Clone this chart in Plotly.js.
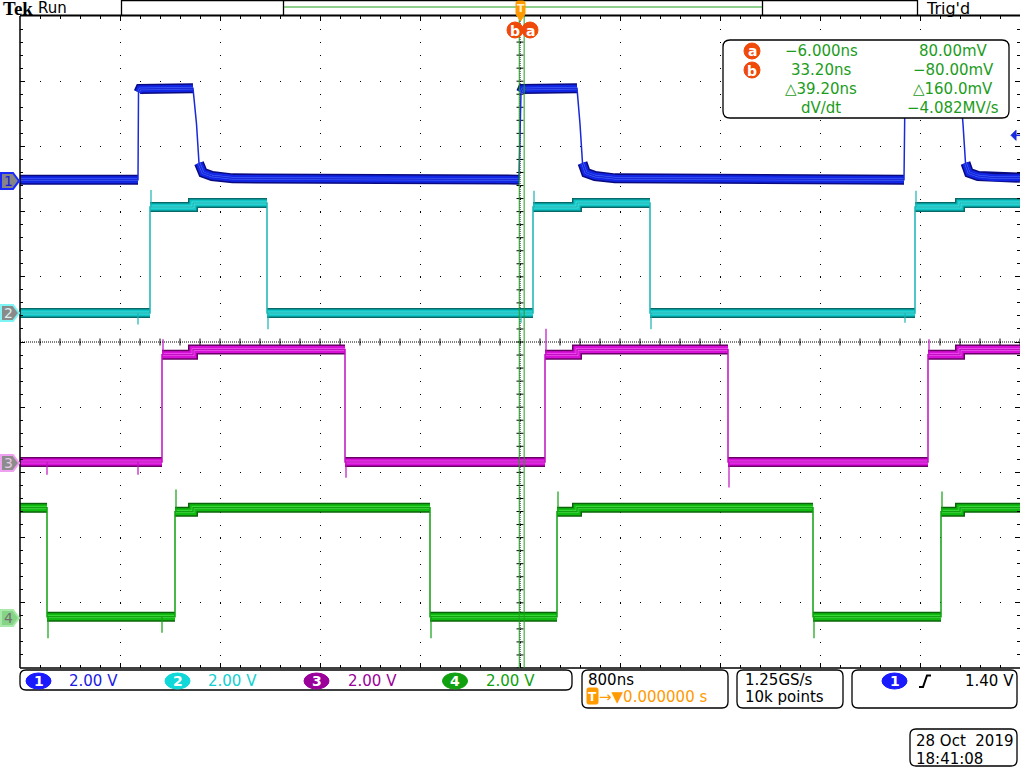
<!DOCTYPE html>
<html><head><meta charset="utf-8">
<script src="https://cdn.plot.ly/plotly-3.0.1.min.js"></script>
<style>html,body{margin:0;padding:0;background:#fff;}#plot{width:1024px;height:768px;}</style>
</head><body><div id="plot"></div>
<script>
// ---------------- DATA (time in ns, voltage in V) ----------------
const ch1T = [-4000, -3056, -3052, -3040, -2616, -2588, -2568, -2536, -2464, -2300, -8, 8, 20, 456, 480, 500, 528, 600, 760, 3072, 3080, 3092, 3520, 3544, 3564, 3592, 3664, 3800, 4000];
const ch1V = [0.04, 0.04, 2.72, 2.82, 2.84, 1.75, 0.55, 0.25, 0.15, 0.08, 0.04, 2.72, 2.82, 2.84, 1.75, 0.55, 0.25, 0.15, 0.08, 0.04, 2.72, 2.82, 2.84, 1.75, 0.55, 0.25, 0.15, 0.10, 0.10];
const ch1SpikeT = [];
const ch1SpikeV = [];

const ch2T = [-4000, -2960, -2960, -2616, -2616, -2024, -2024, 104, 104, 456, 456, 1040, 1040, 3160, 3160, 3520, 3520, 4000];
const ch2V = [0.00, 0.00, 3.25, 3.25, 3.37, 3.37, 0.00, 0.00, 3.25, 3.25, 3.37, 3.37, 0.00, 0.00, 3.25, 3.25, 3.37, 3.37];
const ch2SpikeT = [-3056, -2952, -2016, 8, 112, 1048, 3080, 3168];
const ch2SpikeV = [-0.35, 3.77, -0.50, -0.30, 3.75, -0.50, -0.30, 3.75];

const ch3T = [-4000, -2864, -2864, -2616, -2616, -1400, -1400, 200, 200, 456, 456, 1664, 1664, 3264, 3264, 3520, 3520, 4000];
const ch3V = [0.03, 0.03, 3.32, 3.32, 3.48, 3.48, 0.03, 0.03, 3.32, 3.32, 3.48, 3.48, 0.03, 0.03, 3.32, 3.32, 3.48, 3.48];
const ch3SpikeT = [-3784, -3056, -2856, -1392, 208, 1672, 3272];
const ch3SpikeV = [-0.36, -0.36, 3.80, -0.45, 4.12, -0.75, 3.80];

const ch4T = [-4000, -3784, -3784, -2760, -2760, -2616, -2616, -720, -720, 296, 296, 456, 456, 2344, 2344, 3368, 3368, 3520, 3520, 4000];
const ch4V = [3.38, 3.38, 0.04, 0.04, 3.26, 3.26, 3.38, 3.38, 0.04, 0.04, 3.26, 3.26, 3.38, 3.38, 0.04, 0.04, 3.26, 3.26, 3.38, 3.38];
const ch4SpikeT = [-3776, -2864, -2752, -712, 304, 2352, 3376];
const ch4SpikeV = [-0.62, -0.45, 3.94, -0.62, 3.88, -0.62, 3.88];

const chVoltsPerDiv = [2.00, 2.00, 2.00, 2.00];
const chOffsetDiv = [2.47, 0.445, -1.856, -4.233];
const chScaleLabels = ['2.00 V', '2.00 V', '2.00 V', '2.00 V'];
const timePerDivNs = 800;
const cursorT = [-6.0, 33.2];          // ns  (a, b)
const cursorV = [80.0, -80.0];         // mV
const readCol1 = ['\u22126.000ns', '33.20ns', '\u25B339.20ns', 'dV/dt'];
const readCol2 = ['80.00mV', '\u221280.00mV', '\u25B3160.0mV', '\u22124.082MV/s'];
const trigLevelV = 1.40;

// ---------------- GEOMETRY HELPERS ----------------
const X0 = 20, Y0 = 16, W = 1000, H = 652;
const PX = x => (x - X0) / W;
const PY = y => (Y0 + H - y) / H;
const divPx = H / 10;
const yPixOfDiv = d => (Y0 + H / 2) - d * divPx;
const FONT = 'DejaVu Sans';

const chans = [
  {T: ch1T, V: ch1V, sT: ch1SpikeT, sV: ch1SpikeV, dark: '#0a0a80', mid: '#1226e6', light: '#4d6dff', edge: '#1a2ad8'},
  {T: ch2T, V: ch2V, sT: ch2SpikeT, sV: ch2SpikeV, dark: '#066a6a', mid: '#10c4c4', light: '#6af8f8', edge: '#18b4b4'},
  {T: ch3T, V: ch3V, sT: ch3SpikeT, sV: ch3SpikeV, dark: '#680068', mid: '#d810d8', light: '#ff70ff', edge: '#c010c0'},
  {T: ch4T, V: ch4V, sT: ch4SpikeT, sV: ch4SpikeV, dark: '#0a640a', mid: '#10bc10', light: '#5cf05c', edge: '#10a010'}
];

function levelAt(T, V, t) {
  for (let i = 0; i < T.length - 1; i++) {
    if (T[i] < T[i + 1] && t >= T[i] && t <= T[i + 1]) {
      return V[i] + (V[i + 1] - V[i]) * (t - T[i]) / (T[i + 1] - T[i]);
    }
  }
  return V[V.length - 1];
}

const traces = [];
chans.forEach((c, k) => {
  const toDiv = v => v / chVoltsPerDiv[k] + chOffsetDiv[k];
  const bx = [], by = [];
  for (let i = 0; i < c.T.length; i++) {
    if (i > 0 && Math.abs(c.V[i] - c.V[i - 1]) > 1) { bx.push(null); by.push(null); }
    bx.push(c.T[i]); by.push(toDiv(c.V[i]));
  }
  [[10, c.dark], [7, c.mid], [2.5, c.light]].forEach(([w, col]) => {
    traces.push({x: bx, y: by, type: 'scatter', mode: 'lines', hoverinfo: 'skip',
      line: {color: col, width: w}});
  });
  traces.push({x: c.T, y: c.V.map(toDiv), type: 'scatter', mode: 'lines', hoverinfo: 'skip',
    line: {color: c.edge, width: 1.5}});
  const sx = [], sy = [];
  c.sT.forEach((t, i) => {
    sx.push(t, t, null);
    sy.push(toDiv(levelAt(c.T, c.V, t)), toDiv(c.sV[i]), null);
  });
  if (sx.length) traces.push({x: sx, y: sy, type: 'scatter', mode: 'lines', hoverinfo: 'skip',
    line: {color: c.edge, width: 1.2}});
});

// center crosshair tick marks
const tkx = [], tky = [], tk2x = [], tk2y = [];
for (let i = -25; i <= 25; i++) { tkx.push(i * timePerDivNs / 5); tky.push(0); }
for (let i = -25; i <= 25; i++) { tk2x.push(0); tk2y.push(i / 5); }
traces.unshift({x: tkx, y: tky, type: 'scatter', mode: 'markers', hoverinfo: 'skip',
  marker: {symbol: 'line-ns', size: 5, line: {color: '#000', width: 1}}});
traces.unshift({x: tk2x, y: tk2y, type: 'scatter', mode: 'markers', hoverinfo: 'skip',
  marker: {symbol: 'line-ew', size: 5, line: {color: '#000', width: 1}}});

// ---------------- SHAPES ----------------
const shapes = [];
const P = (x, y) => PX(x) + ',' + PY(y);
function rrect(x0, y0, x1, y1, r, line, fill) {
  const d = 'M' + P(x0 + r, y0) + ' L' + P(x1 - r, y0) + ' Q' + P(x1, y0) + ' ' + P(x1, y0 + r) +
    ' L' + P(x1, y1 - r) + ' Q' + P(x1, y1) + ' ' + P(x1 - r, y1) + ' L' + P(x0 + r, y1) +
    ' Q' + P(x0, y1) + ' ' + P(x0, y1 - r) + ' L' + P(x0, y0 + r) + ' Q' + P(x0, y0) + ' ' + P(x0 + r, y0) + ' Z';
  shapes.push({type: 'path', xref: 'paper', yref: 'paper', path: d, line: line || {color: '#000', width: 1.3}, fillcolor: fill || '#fff'});
}
function pline(pts, color, width, fill, layer) {
  const d = pts.map((p, i) => (i ? 'L' : 'M') + P(p[0], p[1])).join(' ') + (fill ? ' Z' : '');
  shapes.push({type: 'path', xref: 'paper', yref: 'paper', path: d, layer: layer || 'above',
    line: {color: color, width: width}, fillcolor: fill || 'rgba(0,0,0,0)'});
}
function ell(cx, cy, rx, ry, fill, lineColor) {
  shapes.push({type: 'circle', xref: 'paper', yref: 'paper', x0: PX(cx - rx), x1: PX(cx + rx), y0: PY(cy + ry), y1: PY(cy - ry),
    fillcolor: fill, line: {color: lineColor || fill, width: 1}});
}

// center dense dotted crosshair
shapes.push({type: 'line', xref: 'paper', yref: 'paper', x0: 0, x1: 1, y0: 0.5, y1: 0.5, layer: 'below', line: {color: '#000', width: 1, dash: '1px,1px'}});
shapes.push({type: 'line', xref: 'paper', yref: 'paper', x0: 0.5, x1: 0.5, y0: 0, y1: 1, layer: 'below', line: {color: '#000', width: 1, dash: '1px,1px'}});
// frame
pline([[20, 16], [20, 668]], '#000', 1.5);
pline([[20, 15.5], [1020, 15.5]], '#000', 2);
pline([[20, 668], [1020, 668]], '#000', 1.5);
// cursors
cursorT.forEach(t => shapes.push({type: 'line', xref: 'x', yref: 'paper', x0: t, x1: t, y0: 0, y1: 1, line: {color: '#1ea01e', width: 1}}));
// record bar
pline([[121, 0.5], [918, 0.5]], '#000', 1.3);
pline([[121.5, 0], [121.5, 15]], '#000', 1.3);
pline([[917.5, 0], [917.5, 15]], '#000', 1.3);
pline([[283.5, 0], [283.5, 15]], '#000', 1.3);
pline([[762.5, 0], [762.5, 15]], '#000', 1.3);
pline([[284, 7], [762, 7]], '#1ea01e', 1);
// trigger T marker
rrect(516, 1, 525, 15, 2, {color: '#ff9a00', width: 1}, '#ff9a00');
pline([[516.5, 15], [524.5, 15], [520.5, 21]], '#ff9a00', 1, '#ff9a00');
// a/b badges at top
ell(515, 30, 8, 8, '#f04a0a');
ell(530, 30, 8, 8, '#f04a0a');
// readout box
rrect(723, 40, 1009, 118, 7);
ell(752, 51, 8, 8, '#f04a0a');
ell(752, 70, 8, 8, '#f04a0a');
// trigger level arrow (right edge)
const trigPix = yPixOfDiv(trigLevelV / chVoltsPerDiv[0] + chOffsetDiv[0]);
pline([[1011, trigPix], [1016, trigPix - 5], [1016, trigPix + 5]], '#1a2ae0', 1, '#1a2ae0');
pline([[1015, trigPix], [1020, trigPix]], '#1a2ae0', 1.5);
// channel markers
const markerStyle = [
  {fill: '#858585', line: '#1a2aff', txt: '#1a1ae0'},
  {fill: '#8a8a8a', line: '#7ff4f4', txt: '#d8f0f0'},
  {fill: '#8c8c8c', line: '#f0a0f0', txt: '#e8c8e8'},
  {fill: '#86d486', line: '#a8e8a8', txt: '#707070'}
];
chOffsetDiv.forEach((d, k) => {
  const yc = yPixOfDiv(d);
  pline([[1, yc - 8], [13, yc - 8], [19, yc], [13, yc + 8], [1, yc + 8]], markerStyle[k].line, 2, markerStyle[k].fill);
});
// status bar
rrect(20, 670, 572, 690, 6);
const chBadge = [['#1a1aff', 38.5, 68], ['#10d8d8', 177.5, 207], ['#9a009a', 316.5, 347], ['#10a010', 455, 485]];
chBadge.forEach(b => ell(b[1], 681, 12.5, 8, b[0]));
rrect(582, 670, 728, 708, 6);
rrect(737, 670, 843, 708, 6);
rrect(852, 670, 1017, 708, 6);
rrect(910, 729, 1017, 766, 6);
rrect(587, 688, 598, 704, 1.5, {color: '#ff9a00', width: 1}, '#ff9a00');
ell(894.5, 681, 12.5, 8, '#1a1aff');
pline([[919, 687], [923, 687], [927, 675.5], [931, 675.5]], '#000', 2);

// ---------------- ANNOTATIONS ----------------
const ann = [];
function T(x, y, text, color, size, xanchor, extra) {
  ann.push(Object.assign({xref: 'paper', yref: 'paper', x: PX(x), y: PY(y), text: text, showarrow: false,
    xanchor: xanchor || 'left', yanchor: 'middle', borderpad: 0,
    font: {family: FONT, size: size || 15, color: color || '#000'}}, extra || {}));
}
T(2, 9, '<b>Tek</b>', '#000', 19, 'left', {font: {family: 'Liberation Serif', size: 19, color: '#000'}});
T(37, 8, 'Run', '#000', 15);
T(925, 8, 'Trig\'d', '#000', 16);
T(520.5, 8, '<b>T</b>', '#fff3d0', 11, 'center');
T(515, 30.5, '<b>b</b>', '#fff', 14, 'center');
T(530, 30.5, '<b>a</b>', '#fff', 14, 'center');
T(752, 51.5, '<b>a</b>', '#fff', 14, 'center');
T(752, 70.5, '<b>b</b>', '#fff', 14, 'center');
const rowY = [51, 70, 89, 108];
const green = '#1c9c1c';
readCol1.forEach((s, i) => T(821, rowY[i], s, green, 15, 'center'));
readCol2.forEach((s, i) => T(953, rowY[i], s, green, 15, 'center'));
// channel marker numbers
chOffsetDiv.forEach((d, k) => T(8, yPixOfDiv(d), String(k + 1), markerStyle[k].txt, 14, 'center', {font: {family: FONT, size: 14, color: markerStyle[k].txt}}));
// status bar texts
const chTxtCol = ['#1a1ae6', '#10d0d0', '#9a009a', '#10a010'];
chBadge.forEach((b, k) => {
  T(b[1], 681, '<b>' + (k + 1) + '</b>', '#fff', 14, 'center');
  T(b[2], 681, chScaleLabels[k], chTxtCol[k], 15);
});
T(587, 680, timePerDivNs + 'ns', '#000', 15);
T(592.5, 696.5, '<b>T</b>', '#fff', 12, 'center');
T(598, 697, '\u2192\u25BC0.000000 s', '#ff9a00', 15);
T(744, 680, '1.25GS/s', '#000', 15);
T(744, 697, '10k points', '#000', 15);
T(894.5, 681, '<b>1</b>', '#fff', 14, 'center');
T(1015, 681, trigLevelV.toFixed(2) + ' V', '#000', 15, 'right');
T(915, 741, '28 Oct\u00a0\u00a02019', '#000', 15);
T(915, 759, '18:41:08', '#000', 15);

// ---------------- LAYOUT ----------------
const layout = {
  width: 1024, height: 768,
  margin: {l: 20, r: 4, t: 16, b: 100, pad: 0},
  paper_bgcolor: '#fff', plot_bgcolor: '#fff',
  showlegend: false, hovermode: false,
  xaxis: {range: [-5 * timePerDivNs, 5 * timePerDivNs], dtick: timePerDivNs, tick0: 0,
    showgrid: true, gridcolor: '#000', gridwidth: 1, griddash: '1px,12.04px',
    zeroline: false, showticklabels: false, showline: false,
    ticks: 'inside', ticklen: 5, tickcolor: '#000', tickwidth: 1, mirror: 'allticks',
    minor: {dtick: timePerDivNs / 5, tick0: 0, ticks: 'inside', ticklen: 3, tickcolor: '#000', showgrid: false},
    fixedrange: true},
  yaxis: {range: [-5, 5], dtick: 1, tick0: 0,
    showgrid: true, gridcolor: '#000', gridwidth: 1, griddash: '1px,19px',
    zeroline: false, showticklabels: false, showline: false,
    ticks: 'inside', ticklen: 5, tickcolor: '#000', tickwidth: 1, mirror: 'allticks',
    minor: {dtick: 0.2, tick0: 0, ticks: 'inside', ticklen: 3, tickcolor: '#000', showgrid: false},
    fixedrange: true},
  shapes: shapes,
  annotations: ann
};
Plotly.newPlot('plot', traces, layout, {staticPlot: true, displayModeBar: false});
</script>
</body></html>
